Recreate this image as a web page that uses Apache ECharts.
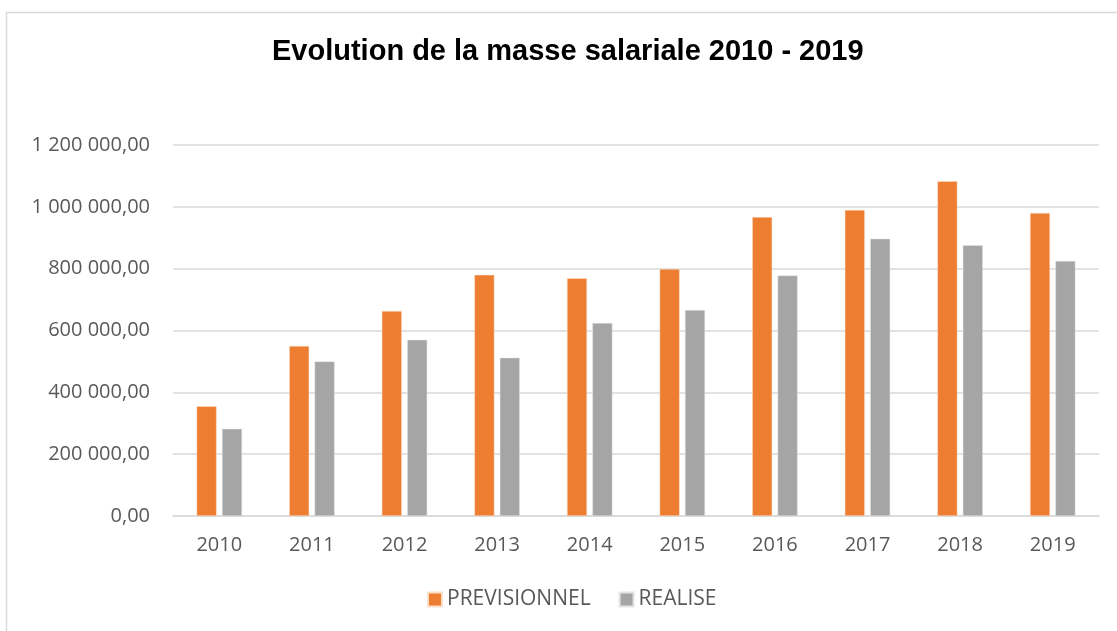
<!DOCTYPE html>
<html>
<head>
<meta charset="utf-8">
<script src="https://cdn.jsdelivr.net/npm/echarts@6/dist/echarts.min.js"></script>
<style>
html,body{margin:0;padding:0;background:#fff;}
#chart{width:1117px;height:631px;}
</style>
</head>
<body>
<div id="chart"></div>
<script>
// donnees
const years = ['2010','2011','2012','2013','2014','2015','2016','2017','2018','2019'];
const previsionnel = [355000, 550000, 663000, 780000, 769000, 799000, 967000, 990000, 1083000, 980000];
const realise = [282000, 500000, 570000, 512000, 624000, 666000, 778000, 897000, 876000, 825000];
const yTicks = [0, 200000, 400000, 600000, 800000, 1000000, 1200000];

function fmtFr(v){
	let s = Math.round(v).toString().replace(/\B(?=(\d{3})+(?!\d))/g, ' ');
	return s + ',00';
}

let chartDom = document.getElementById('chart');
let myChart = echarts.init(chartDom);

let option = {
	animation: false,
	textStyle: { fontFamily: 'Open Sans' },
	graphic: [{
		type: 'rect',
		shape: { x: 6.5, y: 12.5, width: 1200, height: 700 },
		style: { fill: 'none', stroke: '#d9d9d9', lineWidth: 1.5 },
		silent: true
	}],
	title: {
		text: 'Evolution de la masse salariale 2010 - 2019',
		left: 267,
		top: 32,
		textStyle: {
			fontFamily: 'Liberation Sans',
			fontWeight: 'bold',
			fontSize: 29,
			color: '#000'
		}
	},
	legend: {
		data: ['PREVISIONNEL', 'REALISE'],
		bottom: 16,
		left: 422,
		icon: 'rect',
		itemWidth: 14,
		itemHeight: 14,
		itemGap: 28,
		textStyle: { fontSize: 21, color: '#595959', fontFamily: 'Open Sans' }
	},
	grid: {
		left: 173,
		right: 18,
		top: 145,
		bottom: 115,
		containLabel: false
	},
	xAxis: {
		type: 'category',
		data: years,
		axisTick: { show: false },
		axisLine: { lineStyle: { color: '#d9d9d9', width: 1.5 } },
		axisLabel: { fontSize: 20, color: '#595959', margin: 19, fontFamily: 'Open Sans' }
	},
	yAxis: {
		type: 'value',
		min: yTicks[0],
		max: yTicks[yTicks.length - 1],
		interval: 200000,
		axisLine: { show: false },
		axisTick: { show: false },
		splitLine: { lineStyle: { color: '#d9d9d9', width: 1.5 } },
		axisLabel: {
			fontSize: 20,
			color: '#595959',
			margin: 23,
			fontFamily: 'Open Sans',
			formatter: fmtFr
		}
	},
	series: [
		{
			name: 'PREVISIONNEL',
			type: 'bar',
			data: previsionnel,
			barWidth: 20,
			barGap: '27%',
			itemStyle: { color: '#ed7d31', borderColor: '#fbe0cc', borderWidth: 0.5 }
		},
		{
			name: 'REALISE',
			type: 'bar',
			data: realise,
			barWidth: 20,
			itemStyle: { color: '#a5a5a5', borderColor: '#e4e4e4', borderWidth: 0.5 }
		}
	]
};

myChart.setOption(option);
</script>
</body>
</html>
